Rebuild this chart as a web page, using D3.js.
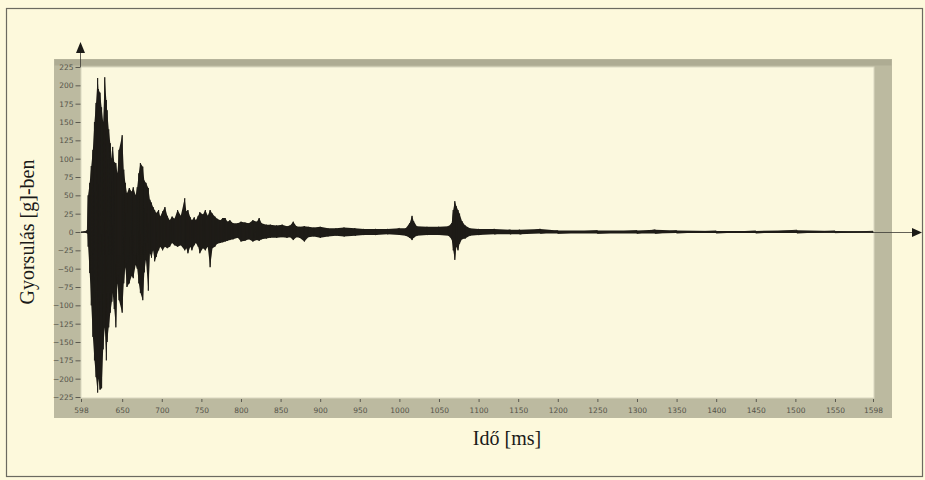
<!DOCTYPE html>
<html>
<head>
<meta charset="utf-8">
<script src="https://cdn.jsdelivr.net/npm/d3@7/dist/d3.min.js"></script>
<style>
  html, body { margin: 0; padding: 0; background: #fdf9dc; }
  svg { display: block; }
</style>
</head>
<body>
<svg id="chart" width="925" height="480"></svg>
<script>
const timeMs = [598,604,606,607,609,611,613,615,617,619,620,622,624,626,628,630,631,633,635,637,638,640,642,644,646,650,652,654,656,659,662,664,667,669,671,673,676,678,680,683,685,687,689,691,693,696,698,701,704,707,710,713,716,720,724,729,731,733,736,738,741,743,746,748,752,755,758,761,764,767,770,774,777,780,783,786,790,796,800,805,810,815,820,823,826,832,837,845,852,858,862,866,870,874,880,885,892,900,910,920,930,944,955,970,985,1000,1008,1013,1016,1018,1022,1035,1050,1062,1066,1068,1070,1072,1074,1076,1079,1083,1089,1100,1120,1140,1152,1178,1200,1250,1300,1323,1350,1400,1450,1502,1550,1598];
const upperG = [0.5,1,3,50,67,90,112,150,176,210,195,190,170,150,211,180,166,140,121,100,116,95,94,80,112,132,85,67,53,60,55,61,50,61,80,94,89,70,67,60,44,40,34,30,26,30,21,28,34,22,16,21,18,30,22,46,28,30,20,16,20,16,22,27,24,30,22,30,25,21,18,16,19,19,14,16,12,12,14,13,12,16,14,19,12,10,10,9,10,8,9,14,8,7,8,7,6,7,5,5,6,5,4,4,4,5,5,12,22,15,8,7,7,8,12,30,42,35,30,25,15,9,5,4,4,3,3,4,2,2,2,3,2,1.5,1.5,2.5,1.5,1];
const lowerG = [-0.5,-1,-2,-20,-56,-100,-143,-175,-198,-219,-200,-215,-213,-160,-130,-175,-150,-130,-110,-95,-83,-105,-130,-70,-93,-110,-70,-48,-75,-70,-60,-63,-45,-50,-70,-83,-93,-55,-38,-80,-29,-35,-25,-40,-34,-25,-20,-25,-20,-22,-20,-15,-18,-20,-18,-25,-22,-29,-20,-25,-18,-15,-20,-29,-22,-25,-20,-48,-22,-20,-16,-15,-14,-13,-12,-11,-10,-8,-13,-12,-10,-13,-11,-12,-10,-9,-8,-8,-7,-8,-7,-11,-7,-8,-13,-7,-6,-8,-6,-5,-6,-5,-4,-4,-3,-4,-5,-8,-11,-8,-5,-4,-4,-5,-10,-25,-38,-20,-25,-16,-10,-9,-5,-4,-3,-3,-3,-2,-2,-2,-2,-2,-1.5,-1.5,-1.5,-1.5,-1,-1];
const xTickValues = [598,650,700,750,800,850,900,950,1000,1050,1100,1150,1200,1250,1300,1350,1400,1450,1500,1550,1598];
const yTickValues = [225,200,175,150,125,100,75,50,25,0,-25,-50,-75,-100,-125,-150,-175,-200,-225];
const xTitle = "Idő [ms]";
const yTitle = "Gyorsulás [g]-ben";

// ---- layout ----
const svg = d3.select("#chart");
const plot = {left: 81, right: 874, top: 67, bottom: 398};
const frame = {left: 54, right: 892, top: 59, bottom: 418};

const x = d3.scaleLinear().domain([598, 1598]).range([81, 873]);
const y = d3.scaleLinear().domain([-225, 225]).range([397, 67]);

// outer page border
svg.append("rect").attr("x", 6.5).attr("y", 8.5).attr("width", 916).attr("height", 468)
  .attr("fill", "#fdf9dc").attr("stroke", "#6b6a60").attr("stroke-width", 1.2);

// gray frame
svg.append("rect").attr("x", frame.left).attr("y", frame.top)
  .attr("width", frame.right - frame.left).attr("height", frame.bottom - frame.top)
  .attr("fill", "#bcbaa0");
svg.append("rect").attr("x", frame.left + 0.5).attr("y", frame.top + 0.5)
  .attr("width", frame.right - frame.left - 1).attr("height", 6)
  .attr("fill", "#aeac93");
// plot background
svg.append("rect").attr("x", plot.left).attr("y", plot.top)
  .attr("width", plot.right - plot.left).attr("height", plot.bottom - plot.top)
  .attr("fill", "#fbf8de").attr("stroke", "#d9d7c0").attr("stroke-width", 1);

// axes
const yAxis = d3.axisLeft(y).tickValues(yTickValues).tickSize(5).tickPadding(2);
const gy = svg.append("g").attr("transform", `translate(${plot.left - 0.5},0)`).call(yAxis);
gy.select(".domain").remove();
gy.selectAll(".tick line").attr("stroke", "#5b5a50");
gy.selectAll(".tick text").attr("fill", "#55544a").attr("font-size", 7.5)
  .attr("font-family", "DejaVu Sans, sans-serif");

const xAxis = d3.axisBottom(x).tickValues(xTickValues).tickFormat(d3.format("d")).tickSize(3).tickPadding(6);
const gx = svg.append("g").attr("transform", `translate(0,${plot.bottom + 1})`).call(xAxis);
gx.select(".domain").remove();
gx.selectAll(".tick line").attr("stroke", "#5b5a50");
gx.selectAll(".tick text").attr("fill", "#55544a").attr("font-size", 7.5)
  .attr("font-family", "DejaVu Sans, sans-serif");

// horizontal zero axis with arrow
svg.append("line").attr("x1", plot.left).attr("x2", 914).attr("y1", y(0) + 0.5).attr("y2", y(0) + 0.5)
  .attr("stroke", "#3b3a34").attr("stroke-width", 0.8);
svg.append("path").attr("d", `M922,${y(0) + 0.5} L912,${y(0) - 4} L912,${y(0) + 5} Z`).attr("fill", "#1c1b17");

// vertical axis arrow
svg.append("line").attr("x1", 80.5).attr("x2", 80.5).attr("y1", plot.top).attr("y2", 50)
  .attr("stroke", "#3b3a34").attr("stroke-width", 0.8);
svg.append("path").attr("d", "M80.5,42 L76,53 L85,53 Z").attr("fill", "#1c1b17");

// signal
const data = timeMs.map((t, i) => ({t, hi: upperG[i], lo: lowerG[i]}));
svg.append("clipPath").attr("id", "clip").append("rect")
  .attr("x", plot.left).attr("y", plot.top).attr("width", plot.right - plot.left).attr("height", plot.bottom - plot.top);
const sig = svg.append("g").attr("clip-path", "url(#clip)");
const area = d3.area().x(d => x(d.t)).y0(d => y(d.lo)).y1(d => y(d.hi));
sig.append("path").datum(data).attr("d", area).attr("fill", "#1e1c17");
const zig = [];
data.forEach(d => { zig.push([d.t, d.hi]); zig.push([d.t, d.lo]); });
const line = d3.line().x(d => x(d[0])).y(d => y(d[1]));
sig.append("path").datum(zig).attr("d", line).attr("fill", "none")
  .attr("stroke", "#1e1c17").attr("stroke-width", 0.9);

// titles
svg.append("text").attr("x", 507).attr("y", 445).attr("text-anchor", "middle")
  .attr("font-family", "Liberation Serif, Times New Roman, serif").attr("font-size", 20)
  .attr("fill", "#1a1a18").text(xTitle);
svg.append("text").attr("transform", "translate(34,232) rotate(-90)").attr("text-anchor", "middle")
  .attr("font-family", "Liberation Serif, Times New Roman, serif").attr("font-size", 20)
  .attr("fill", "#1a1a18").text(yTitle);
</script>
</body>
</html>
